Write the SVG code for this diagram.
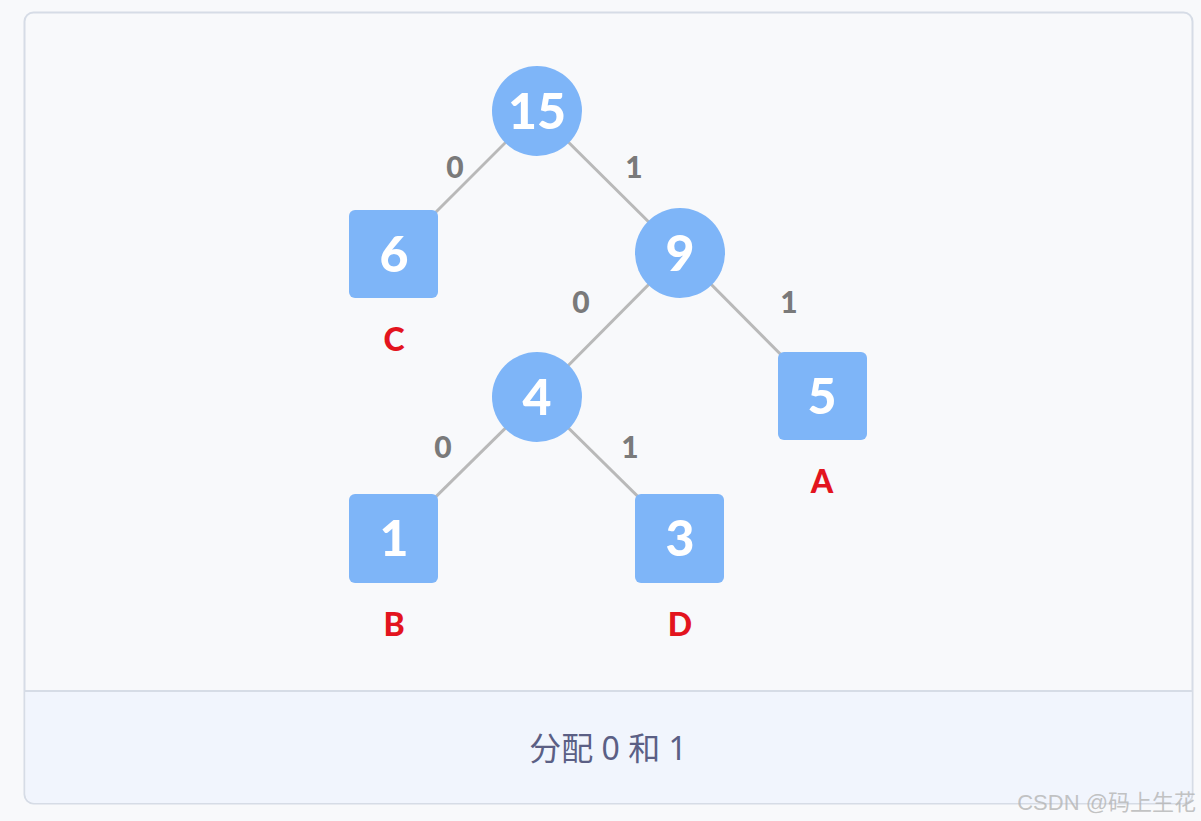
<svg xmlns="http://www.w3.org/2000/svg" width="1201" height="821" viewBox="0 0 1201 821">
<style>
.node{fill:#7eb5f8}
.nt{font-family:Lato,"Open Sans",sans-serif;font-weight:900;font-size:50px;fill:#ffffff;text-anchor:middle}
.edge{stroke:#b9b9b9;stroke-width:3;fill:none}
.el{font-family:Lato,"Open Sans",sans-serif;font-weight:900;font-size:30px;fill:#7a7a7a;text-anchor:middle}
.lab{font-family:Lato,"Open Sans",sans-serif;font-weight:900;font-size:32px;fill:#e3141e;text-anchor:middle}
</style>
<rect width="1201" height="821" fill="#f8f9fb"/>
<rect x="24.5" y="12.5" width="1168" height="791" rx="9" fill="#f8f9fb" stroke="#d6dce6" stroke-width="2"/>
<path d="M25.5 691 H1191.5 V794 a9 9 0 0 1 -9 9 H34.5 a9 9 0 0 1 -9 -9 Z" fill="#f1f5fd"/>
<line x1="25" y1="691" x2="1192" y2="691" stroke="#d6dce6" stroke-width="2"/>
<g id="connectors">
<line class="edge" x1="537" y1="111" x2="394" y2="254"/>
<line class="edge" x1="537" y1="111" x2="680" y2="253"/>
<line class="edge" x1="680" y1="253" x2="537" y2="397"/>
<line class="edge" x1="680" y1="253" x2="822" y2="396"/>
<line class="edge" x1="537" y1="397" x2="394" y2="538"/>
<line class="edge" x1="537" y1="397" x2="680" y2="538"/>
<text class="el" x="455" y="178">0</text>
<text class="el" x="634" y="178">1</text>
<text class="el" x="581" y="313">0</text>
<text class="el" x="789" y="313">1</text>
<text class="el" x="443" y="458">0</text>
<text class="el" x="630" y="458">1</text>
</g>
<g id="n15"><circle class="node" cx="537" cy="111" r="45"/><text class="nt" x="537" y="129">15</text></g>
<g id="n6"><rect class="node" x="349" y="210" width="89" height="88" rx="6"/><text class="nt" x="394" y="272">6</text><text class="lab" x="394" y="351">C</text></g>
<g id="n9"><circle class="node" cx="680" cy="253" r="45"/><text class="nt" x="680" y="271">9</text></g>
<g id="n4"><circle class="node" cx="537" cy="397" r="45"/><text class="nt" x="537" y="415">4</text></g>
<g id="n5"><rect class="node" x="778" y="352" width="89" height="88" rx="6"/><text class="nt" x="822" y="414">5</text><text class="lab" x="822" y="493">A</text></g>
<g id="n1"><rect class="node" x="349" y="494" width="89" height="89" rx="6"/><text class="nt" x="394" y="556">1</text><text class="lab" x="394" y="636">B</text></g>
<g id="n3"><rect class="node" x="635" y="494" width="89" height="89" rx="6"/><text class="nt" x="680" y="556">3</text><text class="lab" x="680" y="636">D</text></g>
<text x="608" y="760" font-family="'Noto Sans','Noto Sans CJK SC',sans-serif" font-size="32" fill="#5b5f85" text-anchor="middle">分配 0 和 1</text>
<text x="1196" y="810" font-family="'Liberation Sans','Noto Sans CJK SC',sans-serif" font-size="22" fill="#b4b4b4" fill-opacity="0.8" text-anchor="end">CSDN @码上生花</text>
</svg>
